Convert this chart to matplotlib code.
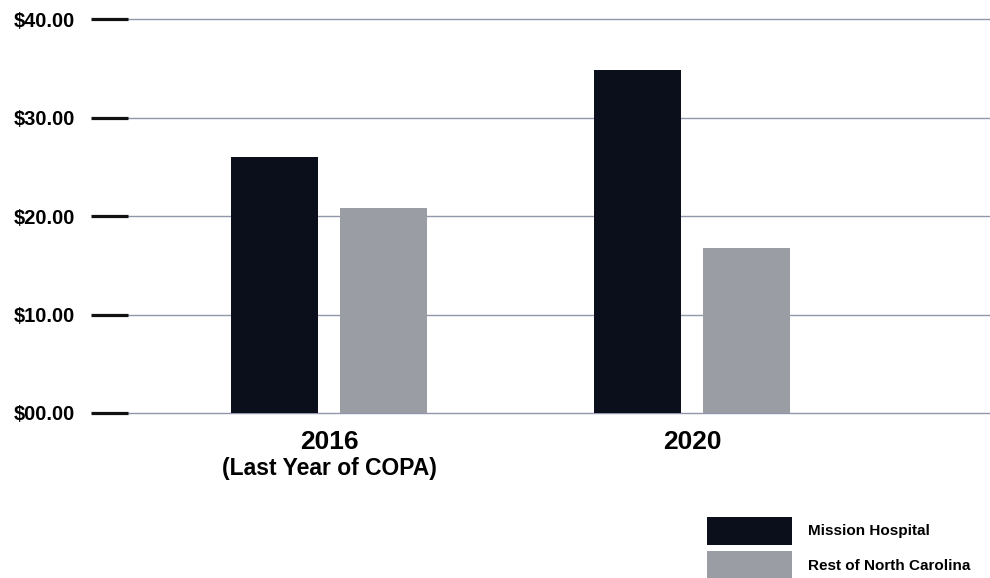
import matplotlib.pyplot as plt
import matplotlib.transforms as mtransforms
from matplotlib.patches import Patch
import numpy as np

plt.rcParams['font.family'] = ['Liberation Sans', 'DejaVu Sans']

# data
years = ['2016', '2020']
subtitles = ['(Last Year of COPA)', '']
mission = [26.0, 34.8]
rest_nc = [20.8, 16.75]
yticks = [0, 10, 20, 30, 40]
ytick_labels = ['$00.00', '$10.00', '$20.00', '$30.00', '$40.00']

c_mission = '#0b0f1c'
c_rest = '#9a9da3'
c_grid = '#9296aa'

fig = plt.figure(figsize=(9.9, 5.78), dpi=100)
ax = fig.add_axes([0.1293, 0.2855, 0.8707, 0.6815])

x = np.arange(len(years))
w = 0.24
ax.bar(x - 0.15, mission, w, color=c_mission, zorder=3)
ax.bar(x + 0.15, rest_nc, w, color=c_rest, zorder=3)

ax.set_xlim(-0.554, 1.821)
ax.set_ylim(0, 40)

ax.set_yticks(yticks)
ax.set_yticklabels(ytick_labels, fontsize=14.5, fontweight='bold')
ax.tick_params(axis='y', length=27, width=2.3, pad=11, color='#111111')
for t in yticks:
    ax.axhline(t, color=c_grid, linewidth=1.0, zorder=1, clip_on=False)
ax.yaxis.get_major_ticks()[0].tick1line.set_color('#3a1c1c')

ax.set_xticks(x)
ax.set_xticklabels(years, fontsize=19, fontweight='bold')
ax.tick_params(axis='x', length=0, pad=12)

trans = mtransforms.blended_transform_factory(ax.transData, fig.transFigure)
for xi, sub in zip(x, subtitles):
    if sub:
        ax.text(xi, 1 - 468 / 578, sub, transform=trans, ha='center', va='center',
                fontsize=16.5, fontweight='bold')

for s in ax.spines.values():
    s.set_visible(False)

handles = [Patch(facecolor=c_mission, label='Mission Hospital'),
           Patch(facecolor=c_rest, label='Rest of North Carolina')]
fig.legend(handles=handles, loc='upper left', bbox_to_anchor=(707 / 990, 1 - 517 / 578),
           frameon=False, prop={'size': 11, 'weight': 'bold'},
           handlelength=5.55, handleheight=2.4, labelspacing=0.45, handletextpad=1.05,
           borderpad=0, borderaxespad=0)

plt.savefig('out.png', dpi=100)
